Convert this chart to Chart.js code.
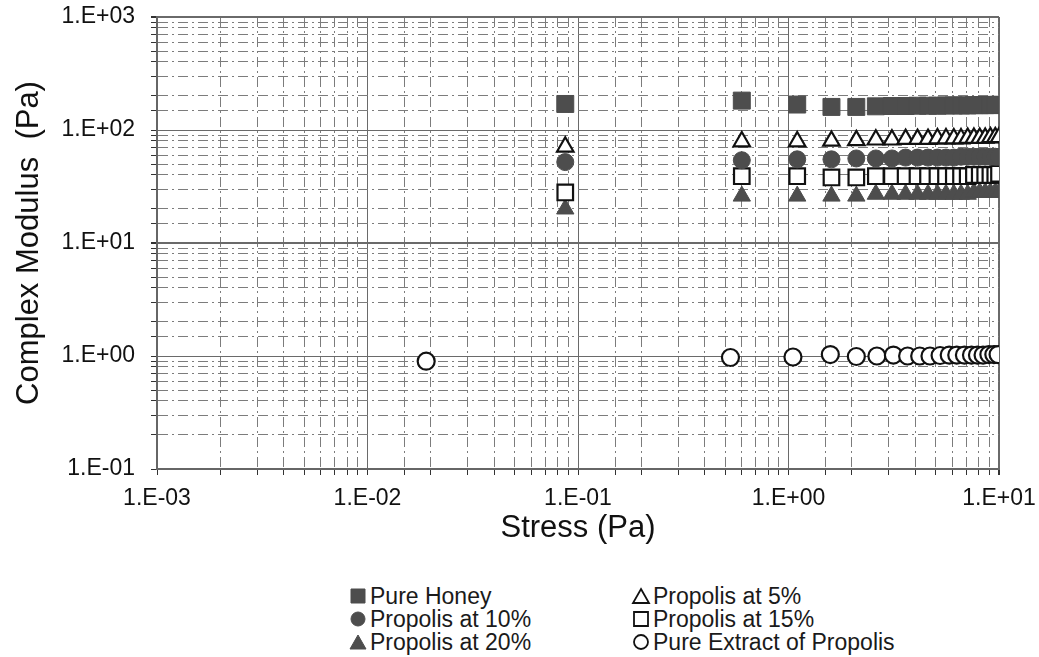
<!DOCTYPE html>
<html>
<head>
<meta charset="utf-8">
<script src="https://cdn.jsdelivr.net/npm/chart.js@4.4.1/dist/chart.umd.min.js"></script>
<style>
    body { margin: 0; background: #fff; font-family: "Liberation Sans", Arial, sans-serif; }
    #wrap { position: relative; width: 1039px; height: 657px; }
    #legend { position: absolute; left: 0; top: 583px; width: 1039px; }
    .leg-item { position: absolute; display: flex; align-items: center; font-size: 23px; color: #1a1a1a; height: 26px; white-space: nowrap; }
    .leg-item canvas { margin-right: 2px; }
</style>
</head>
<body>
<div id="wrap">
    <canvas id="modulusChart" width="1039" height="550"></canvas>
    <div id="legend"></div>
</div>
<script>
// stress points shared by the honey / propolis samples (Pa)
const stressSamples = [0.087, 0.6, 1.1, 1.6, 2.1, 2.6, 3.1, 3.6, 4.1, 4.6, 5.1, 5.6, 6.1, 6.6, 7.1, 7.6, 8.1, 8.6, 9.1, 9.6, 10.0];
const pureHoney  = [170, 182, 168, 160, 160, 162, 163, 163, 164, 164, 164, 165, 165, 165, 165, 166, 166, 166, 166, 167, 167];
const propolis5  = [71, 79, 79, 80, 81, 82, 82, 83, 83, 83, 84, 84, 84, 84, 85, 85, 85, 85, 86, 86, 86];
const propolis10 = [52, 54, 55, 55, 56, 56, 56, 57, 57, 57, 57, 57, 57, 58, 58, 58, 58, 58, 58, 58, 58];
const propolis15 = [28, 39, 39, 38, 38, 39, 39, 39, 39, 39, 39, 39, 39, 39, 39, 40, 40, 40, 40, 40, 41];
const propolis20 = [20, 26, 26, 26, 26, 27, 27, 27, 27, 27, 27, 27, 27, 27, 27, 28, 28, 28, 28, 28, 28];

// pure extract was measured at its own stress points
const stressExtract = [0.019, 0.53, 1.05, 1.58, 2.1, 2.63, 3.15, 3.68, 4.2, 4.7, 5.25, 5.8, 6.3, 6.85, 7.4, 7.9, 8.4, 8.95, 9.45, 9.9];
const pureExtract   = [0.9, 0.97, 0.98, 1.03, 0.99, 1.0, 1.02, 1.0, 1.0, 1.0, 1.01, 1.02, 1.02, 1.02, 1.02, 1.02, 1.02, 1.03, 1.03, 1.03];

const xRange = [0.001, 10];
const yRange = [0.1, 1000];

const DARK = '#4d4d4d';
const FONT = '"Liberation Sans", Arial, sans-serif';

function toPoints(xs, ys) {
    return xs.map((x, i) => ({ x: x, y: ys[i] }));
}

function isDecade(v) {
    const e = Math.log10(v);
    return Math.abs(e - Math.round(e)) < 1e-6;
}

function sciLabel(v) {
    if (!isDecade(v)) return '';
    const n = Math.round(Math.log10(v));
    return '1.E' + (n < 0 ? '-' : '+') + String(Math.abs(n)).padStart(2, '0');
}

const series = [
    { label: 'Pure Honey', xs: stressSamples, ys: pureHoney, style: 'rect', filled: true, radius: 12 },
    { label: 'Propolis at 5%', xs: stressSamples, ys: propolis5, style: 'triangle', filled: false, radius: 9.5 },
    { label: 'Propolis at 10%', xs: stressSamples, ys: propolis10, style: 'circle', filled: true, radius: 8.5 },
    { label: 'Propolis at 15%', xs: stressSamples, ys: propolis15, style: 'rect', filled: false, radius: 11 },
    { label: 'Propolis at 20%', xs: stressSamples, ys: propolis20, style: 'triangle', filled: true, radius: 10 },
    { label: 'Pure Extract of Propolis', xs: stressExtract, ys: pureExtract, style: 'circle', filled: false, radius: 8.5 }
];

const datasets = series.map(s => ({
    label: s.label,
    data: toPoints(s.xs, s.ys),
    pointStyle: s.style,
    pointRadius: s.radius,
    pointHoverRadius: s.radius,
    backgroundColor: s.filled ? DARK : '#ffffff',
    borderColor: s.filled ? DARK : '#111111',
    pointBorderWidth: s.filled ? 1 : 2.2,
    showLine: false
}));

// grid: solid lines at decades, dash-dot lines in between
const gridOpts = {
    color: ctx => (ctx.tick && isDecade(ctx.tick.value)) ? '#6a6a6a' : '#7c7c7c',
    lineWidth: ctx => {
        if (!ctx.tick) return 1;
        const v = ctx.tick.value;
        if (Math.abs(v - yRange[1]) < 1e-6 || Math.abs(v - xRange[1]) < 1e-9) return 2;
        return 1;
    },
    drawTicks: true,
    tickLength: 6,
    tickColor: '#333'
};
const borderOpts = {
    display: true,
    color: '#666',
    width: 2,
    dash: ctx => (ctx.tick && !isDecade(ctx.tick.value)) ? [10, 4, 2, 4] : []
};
const tickFont = { family: FONT, size: 23 };
const titleFont = { family: FONT, size: 31 };

new Chart(document.getElementById('modulusChart').getContext('2d'), {
    type: 'scatter',
    data: { datasets: datasets },
    options: {
        responsive: false,
        animation: false,
        devicePixelRatio: 1,
        layout: { padding: { left: 6, top: 17, right: 40, bottom: 0 } },
        plugins: {
            legend: { display: false },
            tooltip: { enabled: false }
        },
        scales: {
            x: {
                type: 'logarithmic',
                min: xRange[0],
                max: xRange[1],
                grid: gridOpts,
                border: borderOpts,
                ticks: {
                    autoSkip: false,
                    maxRotation: 0,
                    padding: 10,
                    color: '#111',
                    font: tickFont,
                    callback: v => sciLabel(v)
                },
                title: {
                    display: true,
                    text: 'Stress (Pa)',
                    color: '#111',
                    font: titleFont,
                    padding: { top: 0, bottom: 3 }
                },
                afterFit: scale => {
                    scale.height = 81;
                    scale.paddingLeft = 0;
                    scale.paddingRight = 0;
                }
            },
            y: {
                type: 'logarithmic',
                min: yRange[0],
                max: yRange[1],
                grid: gridOpts,
                border: borderOpts,
                ticks: {
                    autoSkip: false,
                    padding: 16,
                    color: '#111',
                    font: tickFont,
                    callback: v => sciLabel(v)
                },
                title: {
                    display: true,
                    text: 'Complex Modulus  (Pa)',
                    color: '#111',
                    font: titleFont,
                    padding: { top: 5, bottom: 0 }
                },
                afterFit: scale => {
                    scale.width = 151;
                    scale.paddingTop = 0;
                    scale.paddingBottom = 0;
                }
            }
        }
    }
});

// Legend: two columns, three rows, built from the same series list
function drawMarker(canvas, s) {
    const c = canvas.getContext('2d');
    const cx = canvas.width / 2, cy = canvas.height / 2;
    c.fillStyle = s.filled ? DARK : '#fff';
    c.strokeStyle = s.filled ? DARK : '#111';
    c.lineWidth = s.filled ? 1 : 1.8;
    c.beginPath();
    if (s.style === 'rect') {
        c.rect(cx - 7, cy - 7, 14, 14);
    } else if (s.style === 'circle') {
        c.arc(cx, cy, 7, 0, Math.PI * 2);
    } else {
        c.moveTo(cx, cy - 7);
        c.lineTo(cx + 8, cy + 7);
        c.lineTo(cx - 8, cy + 7);
        c.closePath();
    }
    c.fill();
    c.stroke();
}

const legend = document.getElementById('legend');
const colLeft = [348, 631];
series.forEach((s, i) => {
    const item = document.createElement('div');
    item.className = 'leg-item';
    item.style.left = colLeft[i % 2] + 'px';
    item.style.top = (Math.floor(i / 2) * 23) + 'px';
    const mk = document.createElement('canvas');
    mk.width = 20;
    mk.height = 20;
    drawMarker(mk, s);
    item.appendChild(mk);
    const txt = document.createElement('span');
    txt.textContent = s.label;
    item.appendChild(txt);
    legend.appendChild(item);
});
</script>
</body>
</html>
